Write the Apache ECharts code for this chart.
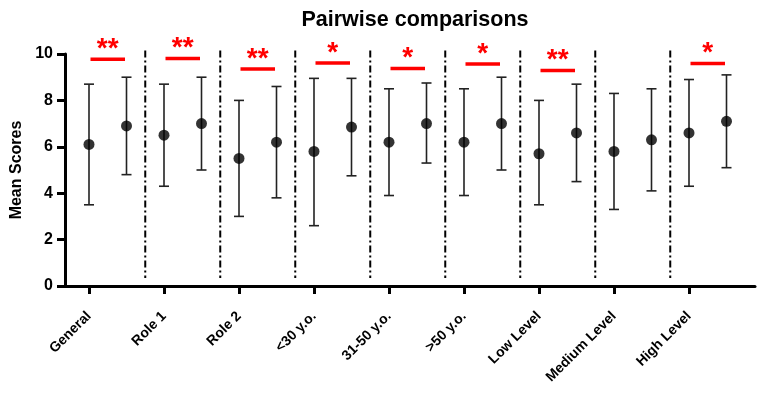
<!DOCTYPE html>
<html>
<head>
<meta charset="utf-8">
<script src="https://cdn.jsdelivr.net/npm/echarts@6/dist/echarts.min.js"></script>
<style>
  html, body { margin: 0; padding: 0; background: #fff; }
  #chart { width: 764px; height: 400px; }
</style>
</head>
<body>
<div id="chart"></div>
<script>
// --- Data ---
const categories = ['General', 'Role 1', 'Role 2', '<30 y.o.', '31-50 y.o.', '>50 y.o.', 'Low Level', 'Medium Level', 'High Level'];

// first point of each pair (mean, lower, upper)
const meanA = [6.1, 6.5, 5.5, 5.8, 6.2, 6.2, 5.7, 5.8, 6.6];
const lowA  = [3.5, 4.3, 3.0, 2.6, 3.9, 3.9, 3.5, 3.3, 4.3];
const highA = [8.7, 8.7, 8.0, 8.95, 8.5, 8.5, 8.0, 8.3, 8.9];

// second point of each pair
const meanB = [6.9, 7.0, 6.2, 6.85, 7.0, 7.0, 6.6, 6.3, 7.1];
const lowB  = [4.8, 5.0, 3.8, 4.75, 5.3, 5.0, 4.5, 4.1, 5.1];
const highB = [9.0, 9.0, 8.6, 8.95, 8.75, 9.0, 8.7, 8.5, 9.1];

// significance bars
const sigLevel = [9.77, 9.81, 9.35, 9.61, 9.38, 9.57, 9.29, null, 9.59];
const sigStars = ['**', '**', '**', '*', '*', '*', '**', '', '*'];

const yTicks = [0, 2, 4, 6, 8, 10];

const FONT = "Arial, 'Liberation Sans', sans-serif";
const PAIR_OFFSET = 0.5;

// --- Build series data ---
const pointData = [];
const errorData = [];
categories.forEach((c, i) => {
    pointData.push([i, meanA[i]]);
    pointData.push([i + PAIR_OFFSET, meanB[i]]);
    errorData.push([i, lowA[i], highA[i]]);
    errorData.push([i + PAIR_OFFSET, lowB[i], highB[i]]);
});
const sigData = categories.map((c, i) => [i, sigLevel[i], sigStars[i]]).filter(d => d[1] !== null);
const sepData = categories.slice(0, -1).map((c, i) => [i + 0.75]);

const chart = echarts.init(document.getElementById('chart'));

const option = {
    animation: false,
    backgroundColor: '#fff',
    title: {
        text: 'Pairwise comparisons',
        left: 410, textAlign: 'center', top: 4,
        textStyle: { fontFamily: FONT, fontSize: 21.5, fontWeight: 'bold', color: '#000' }
    },
    grid: { left: 65, right: 9, top: 54, bottom: 114, outerBoundsMode: 'none' },
    xAxis: {
        type: 'value',
        min: -0.32, max: 8.88,
        splitLine: { show: false },
        axisLine: { show: true, onZero: false, lineStyle: { color: '#000', width: 3 } },
        axisTick: { show: true, length: 8, lineStyle: { color: '#000', width: 3 }, customValues: categories.map((c, i) => i) },
        axisLabel: {
            customValues: categories.map((c, i) => i),
            formatter: v => categories[Math.round(v)],
            rotate: 45, margin: 28,
            fontFamily: FONT, fontSize: 14, fontWeight: 'bold', color: '#000'
        }
    },
    yAxis: {
        type: 'value',
        min: 0, max: 10, interval: 2,
        name: 'Mean Scores', nameLocation: 'middle', nameGap: 38, nameRotate: 90,
        nameTextStyle: { fontFamily: FONT, fontSize: 16, fontWeight: 'bold', color: '#000' },
        splitLine: { show: false },
        axisLine: { show: true, onZero: false, lineStyle: { color: '#000', width: 3 } },
        axisTick: { show: true, length: 8, lineStyle: { color: '#000', width: 3 } },
        axisLabel: {
            margin: 12,
            formatter: v => yTicks.includes(v) ? String(v) : '',
            fontFamily: FONT, fontSize: 16, fontWeight: 'bold', color: '#000'
        }
    },
    series: [
        {
            // dash-dot group separators
            type: 'custom',
            data: sepData,
            silent: true,
            clip: false,
            renderItem: (params, api) => {
                const x = api.value(0);
                const p1 = api.coord([x, 10.15]);
                const p2 = api.coord([x, 0.35]);
                return {
                    type: 'line',
                    shape: { x1: p1[0], y1: p1[1], x2: p2[0], y2: p2[1] },
                    style: { stroke: '#000', lineWidth: 2, lineDash: [7, 3, 2, 3] }
                };
            }
        },
        {
            // error bars
            type: 'custom',
            data: errorData,
            silent: true,
            clip: false,
            renderItem: (params, api) => {
                const x = api.value(0);
                const lo = api.coord([x, api.value(1)]);
                const hi = api.coord([x, api.value(2)]);
                const cap = 5;
                const st = { stroke: '#222', lineWidth: 1.6 };
                return {
                    type: 'group',
                    children: [
                        { type: 'line', shape: { x1: lo[0], y1: lo[1], x2: hi[0], y2: hi[1] }, style: st },
                        { type: 'line', shape: { x1: hi[0] - cap, y1: hi[1], x2: hi[0] + cap, y2: hi[1] }, style: st },
                        { type: 'line', shape: { x1: lo[0] - cap, y1: lo[1], x2: lo[0] + cap, y2: lo[1] }, style: st }
                    ]
                };
            }
        },
        {
            type: 'scatter',
            data: pointData,
            symbol: 'circle',
            symbolSize: 11,
            itemStyle: { color: '#000' },
            z: 5
        },
        {
            // significance bars and stars
            type: 'custom',
            data: sigData,
            silent: true,
            clip: false,
            renderItem: (params, api) => {
                const x = api.value(0);
                const y = api.value(1);
                const stars = sigData[params.dataIndex][2];
                const a = api.coord([x + 0.02, y]);
                const b = api.coord([x + PAIR_OFFSET - 0.02, y]);
                return {
                    type: 'group',
                    children: [
                        { type: 'line', shape: { x1: a[0], y1: a[1], x2: b[0], y2: b[1] }, style: { stroke: '#f00', lineWidth: 3.5 } },
                        {
                            type: 'text',
                            x: (a[0] + b[0]) / 2, y: a[1] + 4,
                            style: {
                                text: stars, fill: '#f00',
                                font: 'bold 28px ' + FONT,
                                align: 'center', verticalAlign: 'bottom'
                            }
                        }
                    ]
                };
            }
        }
    ]
};

chart.setOption(option);
</script>
</body>
</html>
